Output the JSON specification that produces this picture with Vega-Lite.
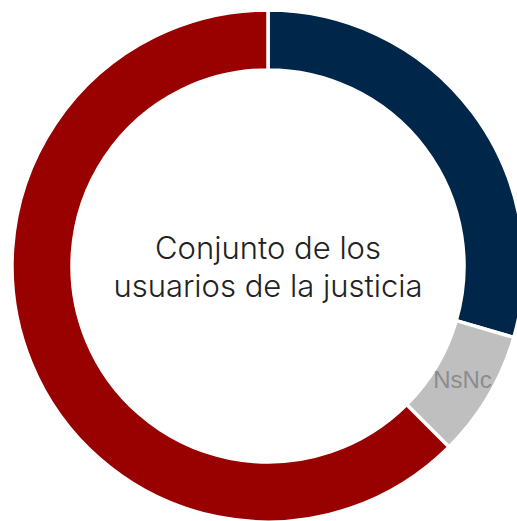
{
  "$schema": "https://vega.github.io/schema/vega-lite/v6.json",
  "width": 536,
  "height": 532,
  "autosize": {"type": "none"},
  "padding": 0,
  "background": "white",
  "config": {"view": {"stroke": null}},
  "datasets": {
    "segmentos": [
      {"categoria": "Sí", "orden": 1, "porcentaje": 29.5},
      {"categoria": "NsNc", "orden": 2, "porcentaje": 8.0},
      {"categoria": "No", "orden": 3, "porcentaje": 62.5}
    ],
    "centro": [
      {"texto": "Conjunto de los\nusuarios de la justicia"}
    ]
  },
  "layer": [
    {
      "data": {"name": "segmentos"},
      "mark": {"type": "arc", "outerRadius": 256, "innerRadius": 196, "stroke": "white", "strokeWidth": 3.5},
      "encoding": {
        "theta": {"field": "porcentaje", "type": "quantitative", "stack": true},
        "order": {"field": "orden", "type": "quantitative"},
        "color": {
          "field": "categoria",
          "type": "nominal",
          "scale": {"domain": ["Sí", "NsNc", "No"], "range": ["#00264a", "#bfbfbf", "#990000"]},
          "legend": null
        }
      }
    },
    {
      "data": {"name": "segmentos"},
      "mark": {"type": "text", "radius": 226, "font": "Liberation Sans", "fontSize": 24, "color": "#8c8c8c", "align": "center", "baseline": "middle"},
      "encoding": {
        "theta": {"field": "porcentaje", "type": "quantitative", "stack": true},
        "order": {"field": "orden", "type": "quantitative"},
        "text": {"condition": {"test": "datum.categoria === 'NsNc'", "field": "categoria"}, "value": ""}
      }
    },
    {
      "data": {"name": "centro"},
      "mark": {"type": "text", "font": "Inter", "fontSize": 31, "fontWeight": 300, "color": "#222222", "align": "center", "baseline": "middle", "lineBreak": "\n", "lineHeight": 38, "dy": -16},
      "encoding": {
        "text": {"field": "texto", "type": "nominal"}
      }
    }
  ]
}
